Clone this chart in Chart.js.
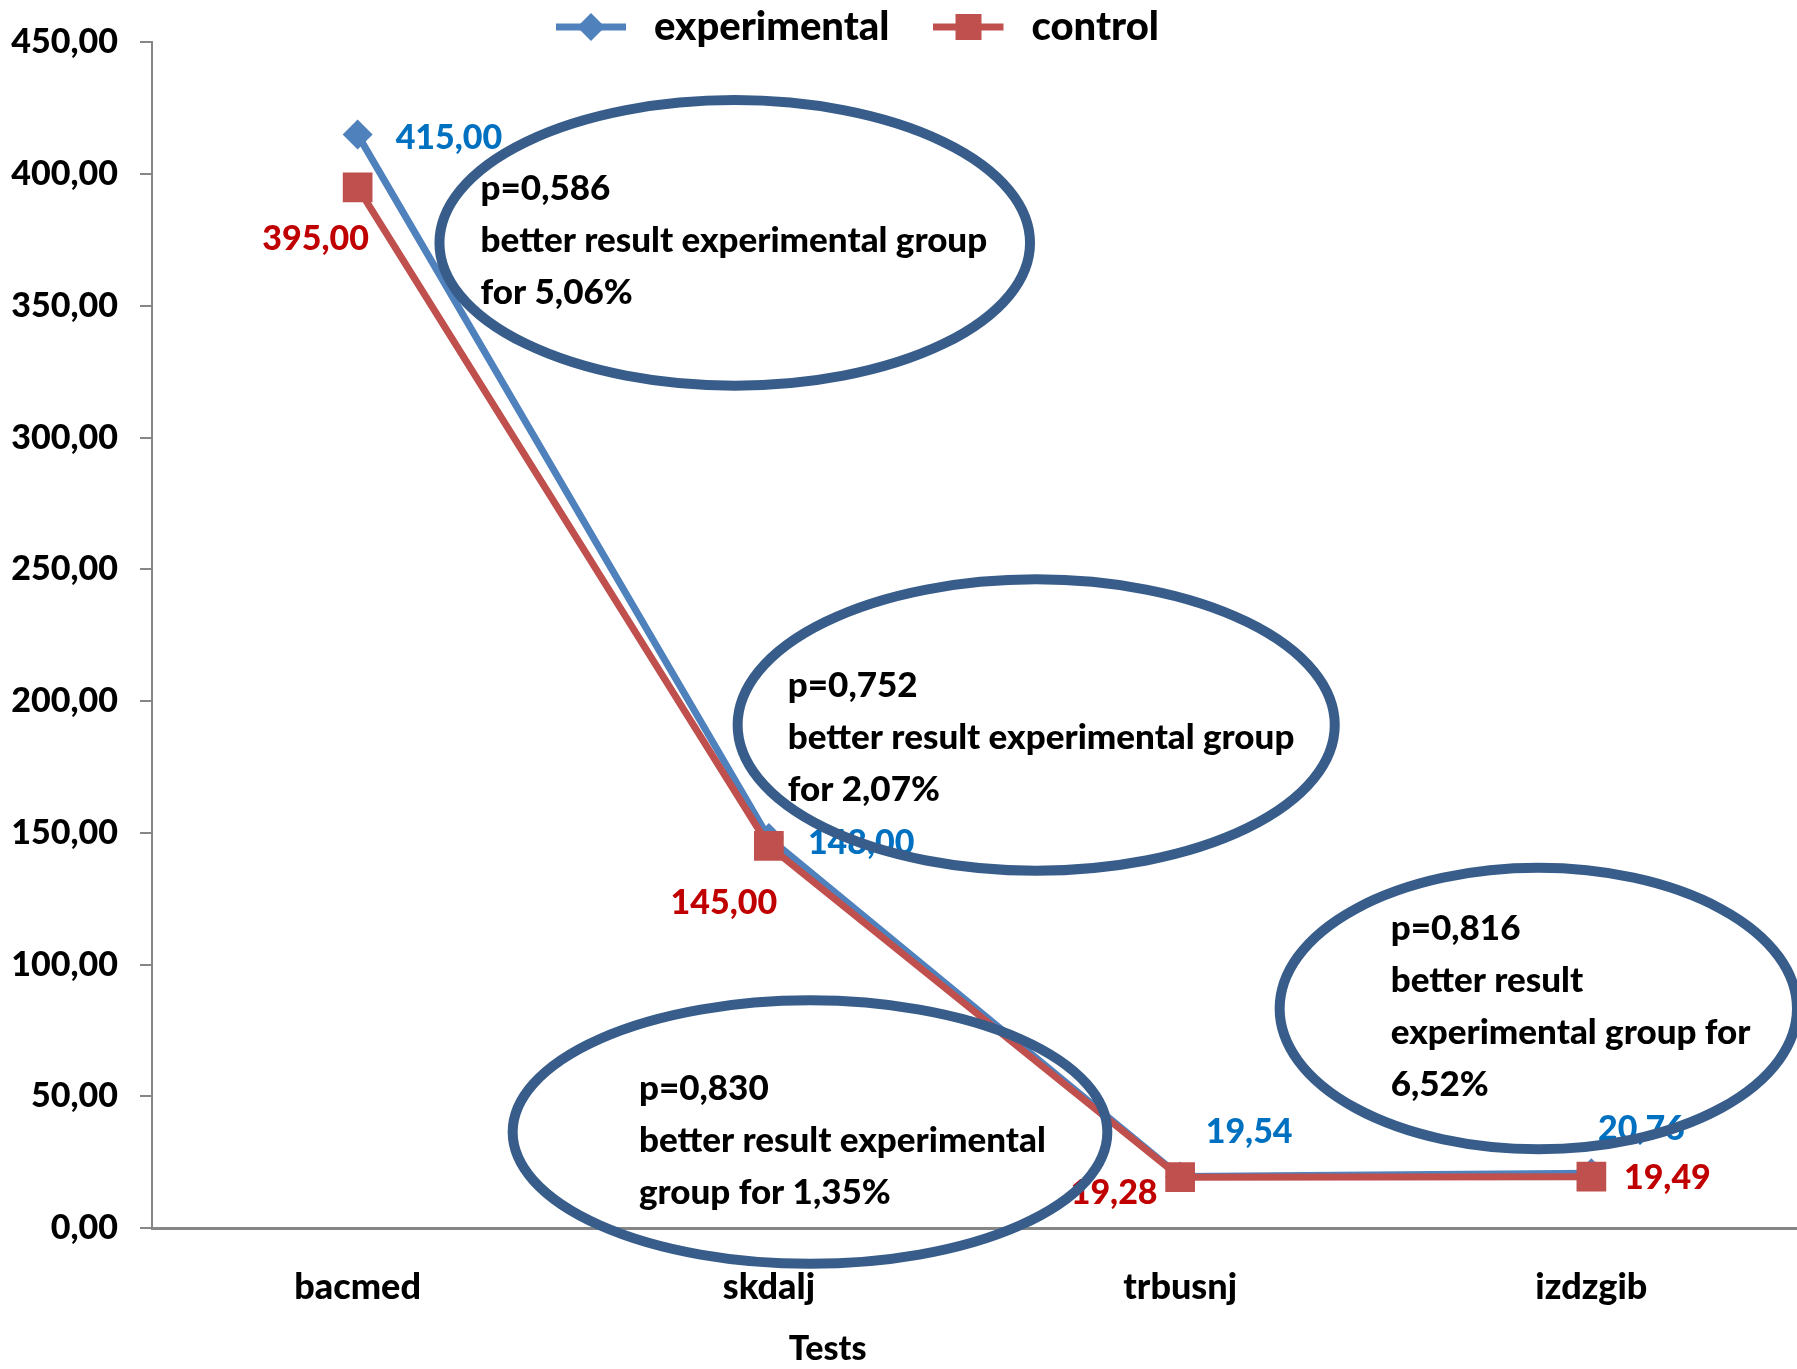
<!DOCTYPE html>
<html>
<head>
<meta charset="utf-8">
<title>Tests – experimental vs control</title>
<script src="https://cdn.jsdelivr.net/npm/chart.js@4.4.1/dist/chart.umd.min.js"></script>
<style>
  html, body { margin: 0; padding: 0; background: #ffffff; overflow: hidden; }
  #wrap { width: 1797px; height: 1369px; position: relative; }
  #chart { display: block; }
</style>
</head>
<body>
<div id="wrap"><canvas id="chart"></canvas></div>
<script>
// ---- data ----
const categories = ['bacmed', 'skdalj', 'trbusnj', 'izdzgib'];
const seriesNames = ['experimental', 'control'];
const experimental = [415.00, 148.00, 19.54, 20.76];
const control = [395.00, 145.00, 19.28, 19.49];
const yMin = 0, yMax = 450, yStep = 50;
const axisTitle = 'Tests';
const noteLines = [
  ['p=0,586', 'better result experimental group', 'for 5,06%'],
  ['p=0,752', 'better result experimental group', 'for 2,07%'],
  ['p=0,830', 'better result experimental', 'group for 1,35%'],
  ['p=0,816', 'better result', 'experimental group for', '6,52%']
];

// ---- styling ----
const FONT = "Lato, 'Open Sans', sans-serif";
const WEIGHT = 900;
const BLUE = '#4F81BD', RED = '#C0504D';
const BLUE_TXT = '#0070C0', RED_TXT = '#C00000';
const AXIS = '#868686';
const RING = '#385D8A';
const LABEL_SIZE = 34, TICK_SIZE = 34, CAT_SIZE = 36, NOTE_SIZE = 35, LEGEND_SIZE = 40, TITLE_SIZE = 34;

const fmt = v => Number(v).toFixed(2).replace('.', ',');

// value-label placement relative to each point: [dx, dy, align]
const labelPlacement = [
  [[38, 3, 'left'], [39, 5, 'left'], [69, -44, 'center'], [50, -44, 'center']],
  [[-42, 52, 'center'], [-45, 57, 'center'], [-66, 16, 'center'], [76, 1, 'center']]
];
const labelColors = [BLUE_TXT, RED_TXT];

// ellipses in axis units: centre (category index, value), radii (category fraction, value)
const ringPlacement = [
  { cx: 0.917, cy: 373.9, rx: 0.718, ry: 54.2, tx: 0.299, ty: 394.3 },
  { cx: 1.650, cy: 190.9, rx: 0.726, ry: 55.3, tx: 1.046, ty: 205.7 },
  { cx: 1.100, cy: 36.4,  rx: 0.723, ry: 50.0, tx: 0.684, ty: 52.7 },
  { cx: 2.871, cy: 83.3,  rx: 0.629, ry: 53.4, tx: 2.512, ty: 113.6 }
];
const NOTE_LINE_GAP = 52;
// axis title position along the category axis
const TITLE_AT = 1.143;

// legend swatches: line with the series marker in the middle
function swatch(color, shape) {
  const c = document.createElement('canvas');
  c.width = 78; c.height = 30;
  const g = c.getContext('2d');
  g.strokeStyle = color; g.fillStyle = color; g.lineWidth = 7;
  g.beginPath(); g.moveTo(0, 15); g.lineTo(70, 15); g.stroke();
  g.beginPath();
  if (shape === 'diamond') {
    g.moveTo(35, 1); g.lineTo(49, 15); g.lineTo(35, 29); g.lineTo(21, 15); g.closePath();
  } else {
    g.rect(22, 2, 26, 26);
  }
  g.fill();
  return c;
}
const legendIcons = [swatch(BLUE, 'diamond'), swatch(RED, 'square')];

const annotate = {
  id: 'annotate',
  afterInit(chart) {
    const lg = chart.legend;
    if (lg) {
      const fit = lg.fit.bind(lg);
      lg.fit = function () { fit(); this.height = 40; };
    }
  },
  beforeDraw(chart) {
    const lg = chart.legend;
    if (lg) {
      const pad = lg.options.labels.padding;
      const fs = lg.options.labels.font.size;
      lg.left = 556 - pad;
      lg.top = 27 - pad - fs / 2;
      lg.bottom = lg.top + pad + fs + 20;
    }
  },
  afterDatasetsDraw(chart) {
    const ctx = chart.ctx;
    const xs = chart.scales.x, ys = chart.scales.y;
    ctx.save();
    // value labels
    ctx.font = `${WEIGHT} ${LABEL_SIZE}px ${FONT}`;
    ctx.textBaseline = 'middle';
    chart.data.datasets.forEach((ds, di) => {
      const meta = chart.getDatasetMeta(di);
      meta.data.forEach((pt, i) => {
        const [dx, dy, al] = labelPlacement[di][i];
        ctx.fillStyle = labelColors[di];
        ctx.textAlign = al;
        ctx.fillText(fmt(ds.data[i]), pt.x + dx, pt.y + dy);
      });
    });
    // rings
    const step = xs.getPixelForValue(1) - xs.getPixelForValue(0);
    const unit = ys.getPixelForValue(0) - ys.getPixelForValue(1);
    ctx.strokeStyle = RING;
    ctx.lineWidth = 10;
    ringPlacement.forEach(r => {
      ctx.beginPath();
      ctx.ellipse(xs.getPixelForValue(r.cx), ys.getPixelForValue(r.cy),
                  r.rx * step, r.ry * unit, 0, 0, Math.PI * 2);
      ctx.stroke();
    });
    // notes inside the rings
    ctx.fillStyle = '#000000';
    ctx.textAlign = 'left';
    ctx.font = `${WEIGHT} ${NOTE_SIZE}px ${FONT}`;
    ringPlacement.forEach((r, k) => {
      const x0 = xs.getPixelForValue(r.tx), y0 = ys.getPixelForValue(r.ty);
      noteLines[k].forEach((line, j) => ctx.fillText(line, x0, y0 + j * NOTE_LINE_GAP));
    });
    // axis title under the category labels
    ctx.textAlign = 'center';
    ctx.font = `${WEIGHT} ${TITLE_SIZE}px ${FONT}`;
    ctx.fillText(axisTitle, xs.getPixelForValue(TITLE_AT), xs.bottom - 20);
    ctx.restore();
  }
};

new Chart(document.getElementById('chart'), {
  type: 'line',
  data: {
    labels: categories,
    datasets: [
      {
        label: seriesNames[0], data: experimental, order: 1,
        borderColor: BLUE, backgroundColor: BLUE, borderWidth: 7,
        pointStyle: 'rectRot', pointRadius: 15, pointHoverRadius: 15,
        pointBackgroundColor: BLUE, pointBorderColor: BLUE, pointBorderWidth: 0,
        tension: 0, fill: false
      },
      {
        label: seriesNames[1], data: control, order: 0,
        borderColor: RED, backgroundColor: RED, borderWidth: 7,
        pointStyle: 'rect', pointRadius: 21, pointHoverRadius: 21,
        pointBackgroundColor: RED, pointBorderColor: RED, pointBorderWidth: 0,
        tension: 0, fill: false
      }
    ]
  },
  options: {
    responsive: true,
    maintainAspectRatio: false,
    animation: false,
    events: [],
    layout: { padding: 0, autoPadding: false },
    plugins: {
      tooltip: { enabled: false },
      legend: {
        position: 'top',
        align: 'start',
        labels: {
          usePointStyle: true,
          pointStyleWidth: 78,
          padding: 44,
          color: '#000000',
          font: { family: FONT, size: LEGEND_SIZE, weight: WEIGHT },
          generateLabels: chart => chart.data.datasets.map((ds, i) => ({
            text: ds.label, pointStyle: legendIcons[i],
            fillStyle: ds.borderColor, strokeStyle: ds.borderColor,
            lineWidth: 0, hidden: false, datasetIndex: i, fontColor: '#000000'
          }))
        }
      }
    },
    scales: {
      x: {
        offset: true,
        grid: { display: false, drawTicks: false },
        border: { display: true, color: AXIS, width: 3 },
        ticks: { color: '#000000', padding: 38, font: { family: FONT, size: CAT_SIZE, weight: WEIGHT } },
        title: { display: false, text: axisTitle },
        afterFit: s => { s.height = 141; s.paddingLeft = 0; s.paddingRight = 0; }
      },
      y: {
        min: yMin, max: yMax,
        ticks: { stepSize: yStep, color: '#000000', padding: 22,
                 font: { family: FONT, size: TICK_SIZE, weight: WEIGHT },
                 callback: v => fmt(v) },
        grid: { drawOnChartArea: false, drawTicks: true, tickLength: 12, color: AXIS, lineWidth: 2 },
        border: { display: true, color: AXIS, width: 2 },
        afterFit: s => { s.width = 152; }
      }
    }
  },
  plugins: [annotate]
});
</script>
</body>
</html>
